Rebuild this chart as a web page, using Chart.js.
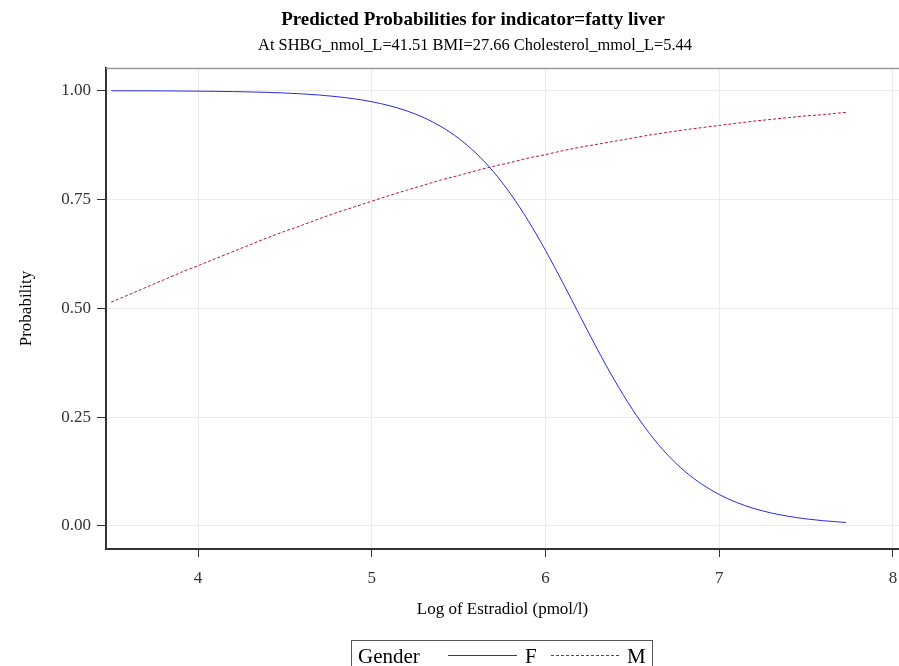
<!DOCTYPE html>
<html>
<head>
<meta charset="utf-8">
<script src="https://cdn.jsdelivr.net/npm/chart.js@4.4.1/dist/chart.umd.min.js"></script>
<style>
  html, body { margin:0; padding:0; background:#fff; }
  #wrap { position:relative; width:899px; height:666px; }
</style>
</head>
<body>
<div id="wrap"><canvas id="chart" width="899" height="666"></canvas></div>
<script>
// Log of Estradiol values where the curves were read
const estradiol = [3.5,3.6,3.7,3.8,3.9,4.0,4.1,4.2,4.3,4.4,4.5,4.6,4.7,4.8,4.9,
  5.0,5.1,5.2,5.3,5.4,5.5,5.6,5.7,5.8,5.9,6.0,6.1,6.2,6.3,6.4,6.5,6.6,6.7,6.8,6.9,
  7.0,7.1,7.2,7.3,7.4,7.5,7.6,7.7,7.73]

// predicted probability, Gender = F (solid blue)
const probF = [0.9997,0.9997,0.9995,0.9994,0.9991,0.9988,0.9984,0.9978,0.9970,0.9960,0.9945,
  0.9925,0.9898,0.9861,0.9812,0.9745,0.9656,0.9537,0.9379,0.9172,0.8904,0.8563,0.8138,
  0.7622,0.7016,0.6330,0.5585,0.4813,0.4049,0.3329,0.2680,0.2117,0.1645,0.1262,0.0958,
  0.0721,0.0539,0.0401,0.0297,0.0220,0.0162,0.0120,0.0088,0.0080]

// predicted probability, Gender = M (dashed red)
const probM = [0.514,0.531,0.548,0.565,0.582,0.598,0.614,0.630,0.646,0.662,0.677,
  0.691,0.706,0.720,0.733,0.746,0.759,0.771,0.783,0.795,0.805,0.816,0.826,
  0.835,0.845,0.853,0.862,0.870,0.877,0.884,0.891,0.898,0.904,0.910,0.915,
  0.920,0.925,0.930,0.934,0.938,0.942,0.945,0.949,0.950]

const xTicks = [4,5,6,7,8]
const yTicks = [0,0.25,0.5,0.75,1]

const titleText = 'Predicted Probabilities for indicator=fatty liver'
const subText = 'At SHBG_nmol_L=41.51 BMI=27.66 Cholesterol_mmol_L=5.44'

const FONT = "'Liberation Serif', 'Times New Roman', serif"
const ink = '#333'
const blue = '#2a2ae0'
const red = '#c4122f'

const pts = arr => estradiol.map((x,i) => ({ x, y: arr[i] }))

// titles, light top frame and the legend box at the bottom
const decor = {
  id: 'decor',
  beforeDatasetsDraw(chart) {
    const { ctx, chartArea: a } = chart
    ctx.save()
    ctx.strokeStyle = '#9a9a9a'
    ctx.lineWidth = 1.5
    ctx.beginPath()
    ctx.moveTo(a.left, a.top + 0.5); ctx.lineTo(a.right, a.top + 0.5)
    ctx.stroke()
    ctx.restore()
  },
  afterDraw(chart) {
    const { ctx } = chart
    ctx.save()
    ctx.fillStyle = '#000'
    ctx.textAlign = 'center'
    ctx.textBaseline = 'middle'
    ctx.font = "bold 19px " + FONT
    ctx.fillText(titleText, 473, 20)
    ctx.font = "16.4px " + FONT
    ctx.fillText(subText, 475, 46)

    ctx.strokeStyle = '#555'
    ctx.lineWidth = 1
    ctx.strokeRect(351.5, 640.5, 301, 40)
    ctx.font = "21px " + FONT
    ctx.textBaseline = 'alphabetic'
    ctx.textAlign = 'left'
    ctx.fillText('Gender', 358, 663)
    ctx.fillText('F', 525, 663)
    ctx.fillText('M', 627, 663)
    ctx.strokeStyle = blue
    ctx.beginPath(); ctx.moveTo(448, 655.5); ctx.lineTo(517, 655.5); ctx.stroke()
    ctx.strokeStyle = red
    ctx.setLineDash([3,2])
    ctx.beginPath(); ctx.moveTo(551, 655.5); ctx.lineTo(619, 655.5); ctx.stroke()
    ctx.restore()
  }
}

new Chart(document.getElementById('chart'), {
  type: 'line',
  data: { datasets: [
    { label:'F', data: pts(probF), borderColor: blue, borderWidth: 1,
      pointRadius: 0, cubicInterpolationMode: 'monotone' },
    { label:'M', data: pts(probM), borderColor: red, borderWidth: 1, borderDash:[3,2],
      pointRadius: 0, cubicInterpolationMode: 'monotone' },
  ]},
  options: {
    responsive: false, animation: false,
    layout: { padding: { left:0, right:0, top:68, bottom:40 } },
    plugins: {
      legend: { display:false },
      tooltip: { enabled:false },
      title: { display:false },
    },
    scales: {
      x: { type:'linear', min:3.47, max:8.035,
        afterBuildTicks: s => { s.ticks = xTicks.map(v => ({ value:v })) },
        afterFit: s => { s.height = 77; s.paddingRight = 0 },
        ticks: { color:ink, font:{ family:FONT, size:17 }, padding:11,
          callback: v => String(v) },
        grid: { color:'#ebebeb', tickColor:ink, tickLength:8 },
        border: { color:ink, width:2 },
        title: { display:true, text:'Log of Estradiol (pmol/l)', color:'#000',
          font:{ family:FONT, size:17 }, padding:{ top:14, bottom:6 } } },
      y: { min:-0.053, max:1.052,
        afterBuildTicks: s => { s.ticks = yTicks.map(v => ({ value:v })) },
        afterFit: s => { s.width = 106; s.paddingTop = 0 },
        ticks: { color:ink, font:{ family:FONT, size:17 }, padding:6,
          callback: v => v.toFixed(2) },
        grid: { color:'#ebebeb', tickColor:ink, tickLength:9 },
        border: { color:ink, width:2 },
        title: { display:true, text:'Probability', color:'#000',
          font:{ family:FONT, size:17 }, padding:{ top:16, bottom:0 } } }
    }
  },
  plugins: [decor]
})
</script>
</body>
</html>
